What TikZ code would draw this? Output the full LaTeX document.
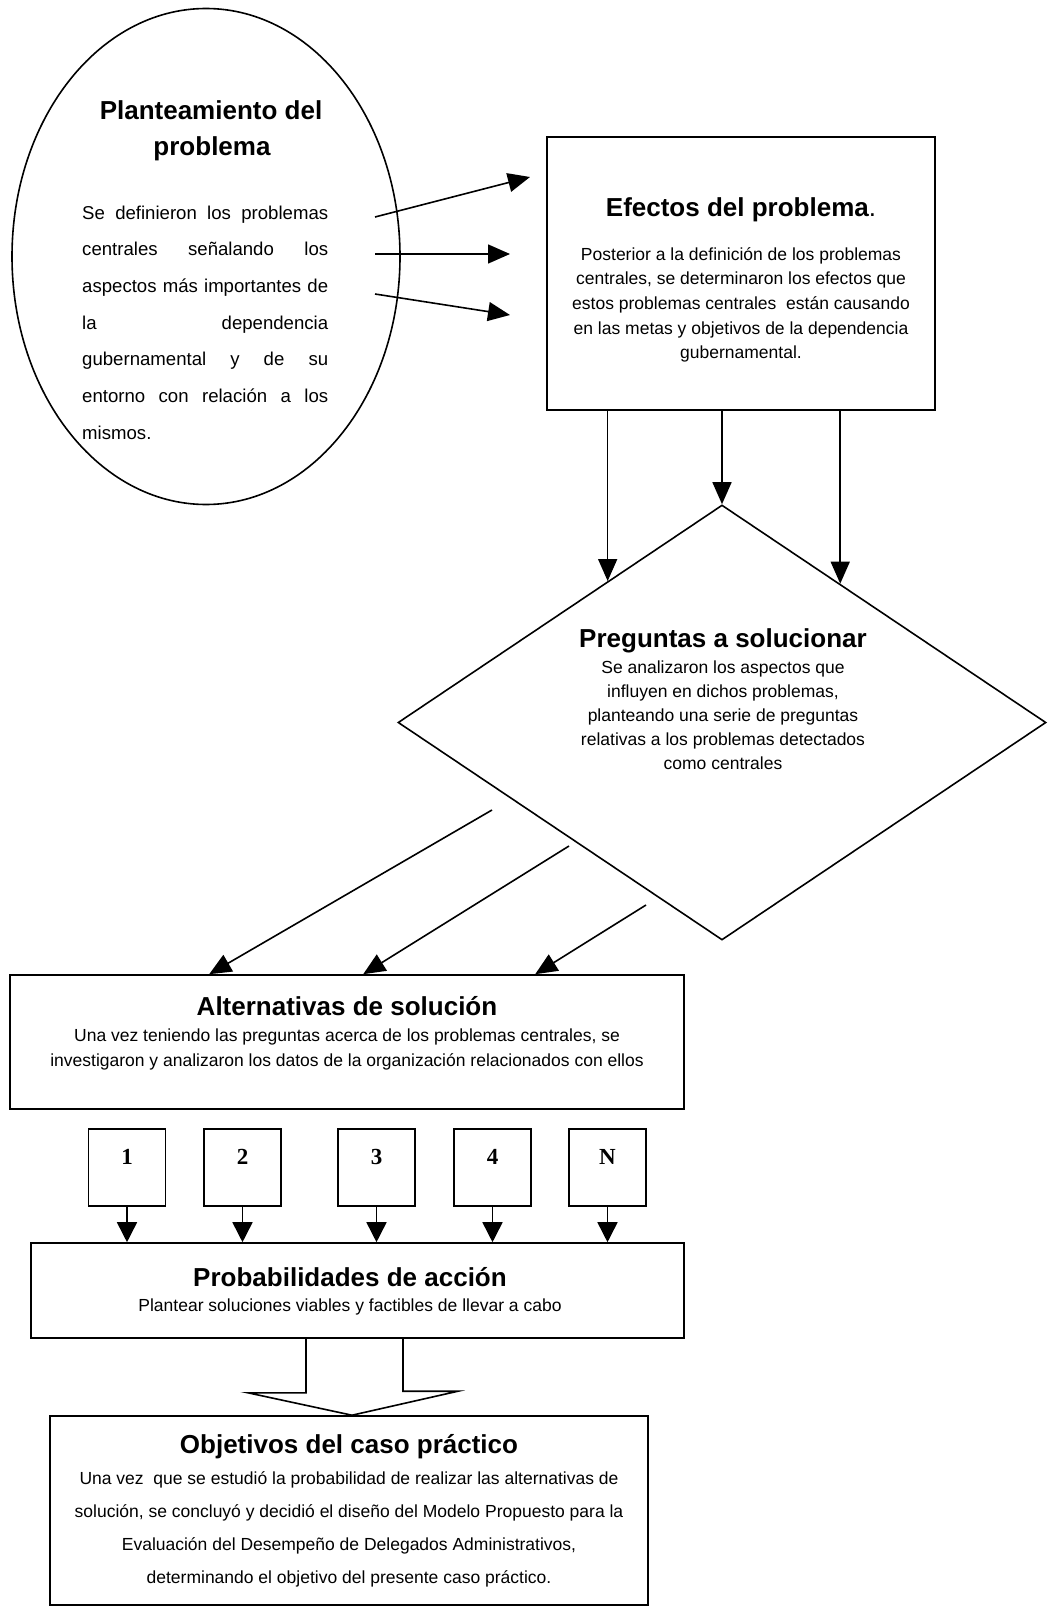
\documentclass[tikz,border=0pt]{standalone}
\usepackage{fontspec}
\setmainfont{Liberation Sans}
\newfontfamily\serifnum{Liberation Serif}
\usetikzlibrary{arrows.meta,shapes.geometric,calc}
\newcommand{\jline}[1]{\leavevmode\hbox to 246pt{#1}}
\begin{document}
\begin{tikzpicture}[x=1pt,y=-1pt,
  bline/.style={line width=1.6pt},
  arr/.style={line width=1.6pt,-{Triangle[length=22pt,width=19pt]}},
  sarr/.style={line width=1.6pt,-{Triangle[length=20pt,width=20pt]}},
  box/.style={draw,line width=1.6pt,rectangle,inner sep=0pt},
  ell/.style={draw,ellipse,line width=1.6pt,inner sep=0pt},
  ttl/.style={font=\fontsize{26}{30}\selectfont\bfseries,anchor=base,inner sep=0pt},
  body/.style={font=\fontsize{17.5}{24.5}\selectfont,align=center,anchor=north,inner sep=0pt},
  num/.style={font=\fontsize{23}{26}\selectfont\serifnum\bfseries,anchor=base,inner sep=0pt}
]
\useasboundingbox (0,0) rectangle (1047,1608);

% Ellipse
\node[ell,minimum width=388pt,minimum height=496pt] (pl) at (206,256.5) {};
\node[ttl] (plt1) at (211,120) {Planteamiento del};
\node[ttl] (plt2) at (212,156) {problema};
\node[body,anchor=north west,text width=246pt,align=left,font=\fontsize{18.6}{36.7}\selectfont] (plb) at (82,205.5)
{\jline{Se\hfill definieron\hfill los\hfill problemas}\\
\jline{centrales\hfill señalando\hfill los}\\
\jline{aspectos\hfill más\hfill importantes\hfill de}\\
\jline{la\hfill dependencia}\\
\jline{gubernamental\hfill y\hfill de\hfill su}\\
\jline{entorno\hfill con\hfill relación\hfill a\hfill los}\\
mismos.};

% Efectos
\node[box,minimum width=388pt,minimum height=273pt] (ef) at (741,273.5) {};
\node[ttl] (eft) at (741,216) {Efectos del problema\textmd{.}};
\node[body,font=\fontsize{17.5}{24.7}\selectfont] (efb) at (741,247)
{Posterior a la definición de los problemas\\
centrales, se determinaron los efectos que\\
estos problemas centrales\ \ están causando\\
en las metas y objetivos de la dependencia\\
gubernamental.};

% Arrows ellipse -> efectos
\coordinate (a1s) at (375,217); \coordinate (a1e) at (530,177);
\coordinate (a2s) at (375,254); \coordinate (a2e) at (510,254);
\coordinate (a3s) at (375,294); \coordinate (a3e) at (510,315);
\draw[arr] (a1s) -- (a1e);
\draw[arr] (a2s) -- (a2e);
\draw[arr] (a3s) -- (a3e);

% Diamond
\node[draw,diamond,line width=1.6pt,minimum width=648pt,minimum height=435pt,inner sep=0pt] (dia) at (722,722.5) {};
\node[ttl] (diat) at (723,647) {Preguntas a solucionar};
\node[body,font=\fontsize{17.5}{24}\selectfont] (diab) at (723,661)
{Se analizaron los aspectos que\\
influyen en dichos problemas,\\
planteando una serie de preguntas\\
relativas a los problemas detectados\\
como centrales};

\coordinate (p1) at ($(dia.north)!0.352!(dia.west)$);
\coordinate (p3) at ($(dia.north)!0.364!(dia.east)$);
\draw[arr] (ef.south -| p1) -- (p1);
\draw[arr] (ef.south -| dia.north) -- (dia.north);
\draw[arr] (ef.south -| p3) -- (p3);

% Alternativas
\node[box,minimum width=674pt,minimum height=134pt] (alt) at (347,1042) {};
\node[ttl] (altt) at (347,1015) {Alternativas de solución};
\node[body,font=\fontsize{17.5}{25}\selectfont] (altb) at (347,1029)
{Una vez teniendo las preguntas acerca de los problemas centrales, se\\
investigaron y analizaron los datos de la organización relacionados con ellos};

\coordinate (d1s) at (492,810);
\coordinate (d2s) at (569,846);
\coordinate (d3s) at (646,905);
\draw[arr] (d1s) -- ([xshift=200pt]alt.north west);
\draw[arr] (d2s) -- ([xshift=354pt]alt.north west);
\draw[arr] (d3s) -- ([xshift=526pt]alt.north west);

% Probabilidades
\node[box,minimum width=653pt,minimum height=95pt] (prob) at (357.5,1290.5) {};
\node[ttl] (probt) at (350,1286) {Probabilidades de acción};
\node[body,anchor=base] (probb) at (350,1311) {Plantear soluciones viables y factibles de llevar a cabo};

% Number boxes
\node[box,minimum width=77pt,minimum height=77pt] (n1) at (127,1167.5) {};
\node[box,minimum width=77pt,minimum height=77pt] (n2) at (242.5,1167.5) {};
\node[box,minimum width=77pt,minimum height=77pt] (n3) at (376.5,1167.5) {};
\node[box,minimum width=77pt,minimum height=77pt] (n4) at (492.5,1167.5) {};
\node[box,minimum width=77pt,minimum height=77pt] (n5) at (607.5,1167.5) {};
\node[num] (l1) at (127,1164) {1};
\node[num] (l2) at (242.5,1164) {2};
\node[num] (l3) at (376.5,1164) {3};
\node[num] (l4) at (492.5,1164) {4};
\node[num] (l5) at (607.5,1164) {N};
\foreach \n in {n1,n2,n3,n4,n5}{
  \draw[sarr] (\n.south) -- (\n.south |- prob.north);
}

% Objetivos
\node[box,minimum width=598pt,minimum height=189pt] (obj) at (349,1510.5) {};
\node[ttl] (objt) at (349,1453) {Objetivos del caso práctico};
\node[body,font=\fontsize{17.5}{33}\selectfont] (objb) at (349,1471)
{Una vez\ \ que se estudió la probabilidad de realizar las alternativas de\\
solución, se concluyó y decidió el diseño del Modelo Propuesto para la\\
Evaluación del Desempeño de Delegados Administrativos,\\
determinando el objetivo del presente caso práctico.};

% Block arrow
\draw[bline,line join=miter] ([xshift=-51.5pt]prob.south) -- ++(0,54) -- ++(-58,0) -- ([xshift=3pt]obj.north) -- ++(106,-24) -- ++(-55,0) -- ++(0,-54);

\end{tikzpicture}
\end{document}
